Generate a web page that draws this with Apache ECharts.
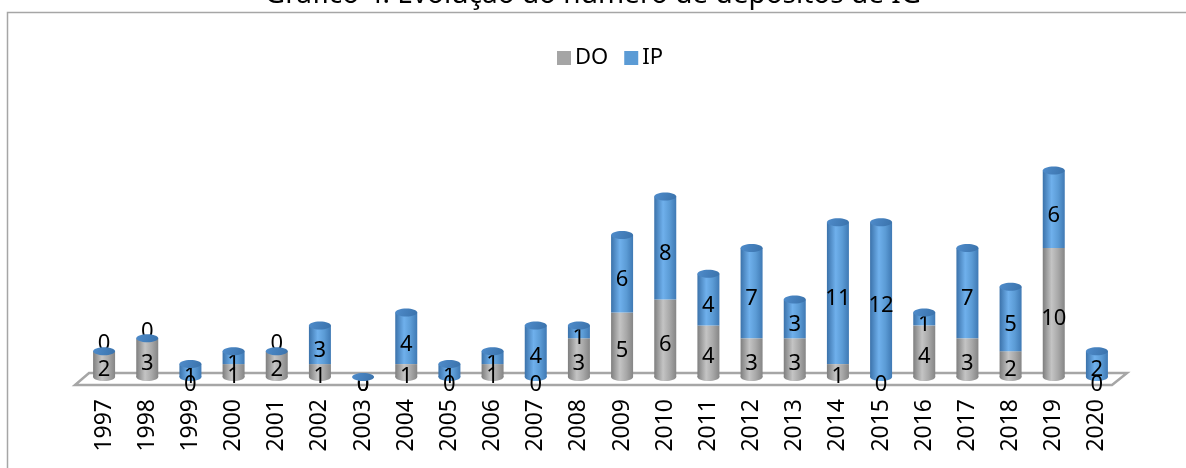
<!DOCTYPE html>
<html>
<head>
<meta charset="utf-8">
<script src="https://cdn.jsdelivr.net/npm/echarts@6/dist/echarts.min.js"></script>
<style>
  html, body { margin: 0; padding: 0; background: #fff; }
  #chart { width: 1186px; height: 468px; }
</style>
</head>
<body>
<div id="chart"></div>
<script>
var years = ['1997', '1998', '1999', '2000', '2001', '2002', '2003', '2004', '2005', '2006', '2007', '2008',
             '2009', '2010', '2011', '2012', '2013', '2014', '2015', '2016', '2017', '2018', '2019', '2020'];
var doValues = [2, 3, 0, 1, 2, 1, 0, 1, 0, 1, 0, 3, 5, 6, 4, 3, 3, 1, 0, 4, 3, 2, 10, 0];
var ipValues = [0, 0, 1, 1, 0, 3, 0, 4, 1, 1, 4, 1, 6, 8, 4, 7, 3, 11, 12, 1, 7, 5, 6, 2];

var fontFam = '"Noto Sans", "Open Sans", sans-serif';

// cilindros: gradiente horizontal
function grayGrad() {
    return new echarts.graphic.LinearGradient(0, 0, 1, 0, [
        { offset: 0, color: '#7e7e7e' },
        { offset: 0.4, color: '#c4c4c4' },
        { offset: 0.7, color: '#a8a8a8' },
        { offset: 1, color: '#858585' }
    ]);
}
function blueGrad() {
    return new echarts.graphic.LinearGradient(0, 0, 1, 0, [
        { offset: 0, color: '#3b72aa' },
        { offset: 0.4, color: '#6fb0ec' },
        { offset: 0.7, color: '#5b9bd5' },
        { offset: 1, color: '#3f79b4' }
    ]);
}

var totals = doValues.map(function (v, i) { return v + ipValues[i]; });

var doData = doValues.map(function (v) {
    if (v === 0) {
        return { value: v, label: { position: 'inside', offset: [0, 8] } };
    }
    return v;
});
var ipData = ipValues.map(function (v, i) {
    if (v === 0 && doValues[i] > 0) {
        return { value: v, label: { position: 'top', distance: -4, offset: [0, 0] } };
    }
    if (v === 0) {
        return { value: v, label: { position: 'inside', offset: [0, 8] } };
    }
    return v;
});

var barW = 22;

var myChart = echarts.init(document.getElementById('chart'));

var option = {
    animation: false,
    title: {
        text: 'Gráfico 4: Evolução do número de depósitos de IG',
        left: 'center',
        top: -24,
        textStyle: { fontFamily: fontFam, fontSize: 28, fontWeight: 'normal', color: '#000', lineHeight: 29 }
    },
    legend: {
        left: 552,
        top: 42,
        icon: 'rect',
        itemWidth: 14,
        itemHeight: 14,
        itemGap: 16,
        textStyle: { fontFamily: fontFam, fontSize: 22, color: '#000', padding: [0, 0, 0, -1] },
        data: [
            { name: 'DO', itemStyle: { color: '#a5a5a5' } },
            { name: 'IP', itemStyle: { color: '#5b9bd5' } }
        ]
    },
    graphic: [
        {
            type: 'rect',
            z: -10,
            shape: { x: 7.5, y: 12.5, width: 1200, height: 500 },
            style: { fill: 'rgba(0,0,0,0)', stroke: '#a6a6a6', lineWidth: 1.5 }
        },
        {
            type: 'polygon',
            z: -5,
            shape: { points: [[89, 373], [1127, 373], [1112, 385], [75, 385]] },
            style: { fill: '#fff', stroke: '#a6a6a6', lineWidth: 2.5 }
        }
    ],
    grid: { left: 82.5, right: 67.5, top: 119, bottom: 91 },
    xAxis: {
        type: 'category',
        data: years,
        axisLine: { show: false },
        axisTick: { show: false },
        axisLabel: {
            rotate: 90,
            margin: 22,
            color: '#000',
            fontFamily: fontFam,
            fontSize: 23
        }
    },
    yAxis: {
        type: 'value',
        min: 0,
        max: 20,
        show: false,
        splitLine: { show: false }
    },
    series: [
        {
            // base arredondada dos cilindros
            type: 'custom',
            silent: true,
            z: 1,
            data: totals,
            renderItem: function (params, api) {
                var i = params.dataIndex;
                if (totals[i] === 0) return null;
                var p = api.coord([i, 0]);
                return {
                    type: 'ellipse',
                    shape: { cx: p[0], cy: p[1], rx: barW / 2, ry: 4 },
                    style: { fill: doValues[i] > 0 ? grayGrad() : blueGrad() }
                };
            }
        },
        {
            name: 'DO',
            type: 'bar',
            stack: 'total',
            z: 2,
            barWidth: barW,
            data: doData,
            itemStyle: { color: grayGrad() },
            label: {
                show: true,
                position: 'inside',
                offset: [0, 6],
                color: '#000',
                fontFamily: fontFam,
                fontSize: 22
            }
        },
        {
            name: 'IP',
            type: 'bar',
            stack: 'total',
            z: 2,
            barWidth: barW,
            data: ipData,
            itemStyle: { color: blueGrad() },
            label: {
                show: true,
                position: 'inside',
                offset: [0, 6],
                color: '#000',
                fontFamily: fontFam,
                fontSize: 22
            }
        },
        {
            // tampa dos cilindros
            type: 'custom',
            silent: true,
            z: 3,
            data: totals,
            renderItem: function (params, api) {
                var i = params.dataIndex;
                var p = api.coord([i, totals[i]]);
                return {
                    type: 'ellipse',
                    shape: { cx: p[0], cy: p[1], rx: barW / 2, ry: 4 },
                    style: {
                        fill: new echarts.graphic.LinearGradient(0, 0, 1, 1, [
                            { offset: 0, color: '#4f8ccb' },
                            { offset: 1, color: '#3a72ab' }
                        ])
                    }
                };
            }
        }
    ]
};

option && myChart.setOption(option);
</script>
</body>
</html>
